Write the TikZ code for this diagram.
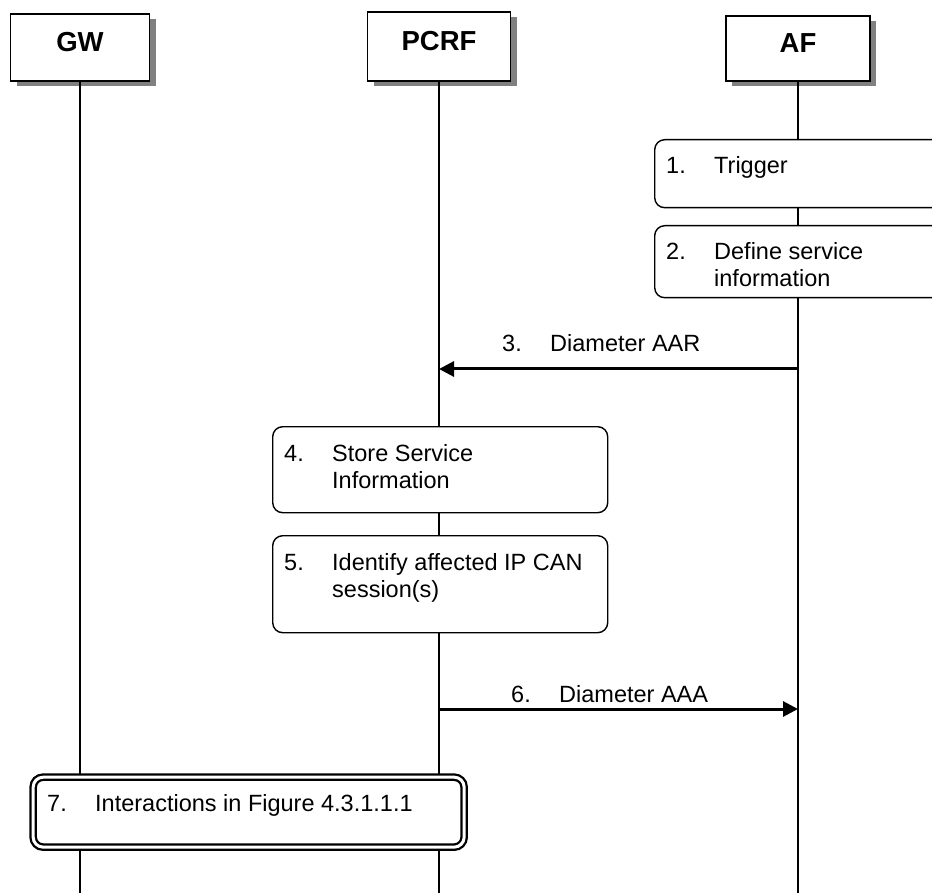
\documentclass[tikz,border=0pt]{standalone}
\usepackage{fontspec}
\setmainfont{Liberation Sans}
\usetikzlibrary{arrows.meta,positioning,calc,shadows}
\definecolor{ink}{HTML}{000000}
\definecolor{shade}{HTML}{808080}
\newcommand{\stepline}[2]{\begin{tabular}[t]{@{}p{48pt}@{}l@{}}#1&#2\end{tabular}}
\tikzset{
  entity/.style={draw=ink, fill=white, line width=1.6pt, inner sep=0pt,
                 font=\fontsize{27.5}{32}\selectfont\bfseries, text height=20pt, text depth=12pt,
                 drop shadow={opacity=1, fill=shade, shadow xshift=6pt, shadow yshift=-5pt}},
  lifeline/.style={draw=ink, line width=1.5pt},
  stepbox/.style={draw=ink, fill=white, rounded corners=10pt, line width=1.4pt,
                  anchor=north west, inner sep=0pt},
  refbox/.style={stepbox, double=white, double distance=3pt, line width=2.3pt},
  steptext/.style={anchor=base west, inner sep=0pt, font=\fontsize{23.5}{27}\selectfont},
  msg/.style={-{Triangle[length=15pt,width=15pt]}, line width=3pt, draw=ink}
}
\begin{document}
\begin{tikzpicture}[x=1pt,y=-1pt]
    \useasboundingbox (0,0) rectangle (932,893);
    \clip (0,0) rectangle (932,893);
    \node[entity, minimum width=139pt, minimum height=67pt] (gw) at (80,47.5) {GW};
    \node[entity, minimum width=143pt, minimum height=69pt] (pcrf) at (439,46.5) {PCRF};
    \node[entity, minimum width=144pt, minimum height=65pt] (af) at (798,48.5) {AF};
    \foreach \n in {gw,pcrf,af} {
      \coordinate (\n-end) at (\n.south |- 0,893);
      \draw[lifeline] (\n.south) -- (\n-end);
    }
    \coordinate (aar-af) at (af.south |- 0,369);
    \coordinate (aar-pcrf) at (pcrf.south |- 0,369);
    \draw[msg] (aar-af) -- (aar-pcrf);
    \node[steptext] (aar) at (502,352) {\stepline{3.}{Diameter AAR}};
    \coordinate (aaa-pcrf) at (pcrf.south |- 0,709);
    \coordinate (aaa-af) at (af.south |- 0,709);
    \draw[msg] (aaa-pcrf) -- (aaa-af);
    \node[steptext] (aaa) at (511,702) {\stepline{6.}{Diameter AAA}};
    \node[stepbox, minimum width=310pt, minimum height=68pt] (s1) at (654,139) {};
    \node[steptext] (t1) at ($(s1.north west)+(12,35)$) {\stepline{1.}{Trigger}};
    \node[stepbox, minimum width=310pt, minimum height=72pt] (s2) at (654,225) {};
    \node[steptext] (t2) at ($(s2.north west)+(12,35)$) {\stepline{2.}{Define service\\&information}};
    \node[stepbox, minimum width=335pt, minimum height=86pt] (s4) at (272,426) {};
    \node[steptext] (t4) at ($(s4.north west)+(12,35)$) {\stepline{4.}{Store Service\\&Information}};
    \node[stepbox, minimum width=335pt, minimum height=97pt] (s5) at (272,535) {};
    \node[steptext] (t5) at ($(s5.north west)+(12,35)$) {\stepline{5.}{Identify affected IP CAN\\&session(s)}};
    \node[refbox, minimum width=431pt, minimum height=70pt] (s7) at (32,776) {};
    \node[steptext] (t7) at ($(s7.north west)+(15,35)$) {\stepline{7.}{Interactions in Figure 4.3.1.1.1}};
  \end{tikzpicture}
\end{document}
